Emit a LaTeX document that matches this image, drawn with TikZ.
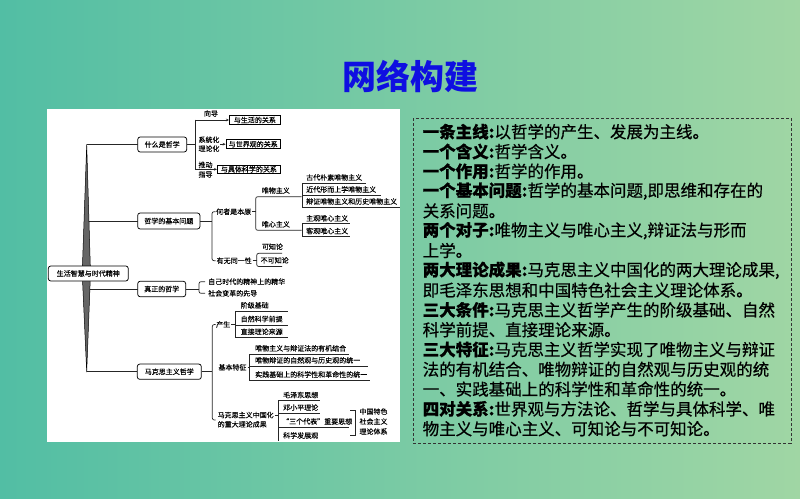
\documentclass[tikz,border=0pt]{standalone}
\usepackage{fontspec}
\newfontfamily\cjk{Noto Sans CJK SC}
\newfontfamily\cjkh[FakeBold=0.5]{Noto Sans CJK SC}
\newfontfamily\cjkm[FakeBold=0.25]{Noto Sans CJK SC}
\usetikzlibrary{arrows.meta}
\definecolor{bgL}{RGB}{82,190,164}
\definecolor{bgR}{RGB}{160,214,164}
\definecolor{ttl}{RGB}{15,15,225}
\begin{document}
\begin{tikzpicture}[x=1pt,y=-1pt,
  mm/.style={font=\cjkm\fontsize{7}{8}\selectfont, inner sep=0pt, text=black},
  mmw/.style={mm, anchor=west},
  rbox/.style={mm, draw, rounded corners=2.5pt, fill=white, line width=0.75pt},
  sbox/.style={mm, draw, line width=0.65pt, fill=white},
  ln/.style={line width=0.7pt, black!85},
  br/.style={ln, rounded corners=2pt},
  arr/.style={ln, -{Stealth[length=3pt,width=2.6pt]}},
  body/.style={font=\cjkh\fontsize{16.5}{19.8}\selectfont, inner sep=0pt, anchor=west, text=black},
]
\useasboundingbox (0,0) rectangle (800,498);
\shade[left color=bgL, right color=bgR] (0,0) rectangle (800,498);

% title
\node[font=\cjk\bfseries\fontsize{34}{36}\selectfont, text=ttl, inner sep=0pt] (title) at (410.5,76) {网络构建};

% white panel
\fill[white] (46.7,109.3) rectangle (400,441.5);

% trunk branches
\draw[ln] (86.7,144.5) -- (137.7,144.5);
\draw[ln] (88,221) -- (137.7,221);
\draw[ln] (88,289) -- (137.7,289);
\draw[ln] (87,371.7) -- (137.3,371.7);
\filldraw[fill=black!60, draw=black, line width=0.5pt] (86.7,144.5) -- (90.5,273) -- (86.7,372) -- (82.2,273) -- cycle;

% main boxes
\node[rbox, minimum width=80pt, minimum height=15pt] (root) at (88.3,273.5) {生活智慧与时代精神};
\node[rbox, minimum width=49pt, minimum height=15pt] (b1) at (162.2,144.5) {什么是哲学};
\node[rbox, minimum width=62.3pt, minimum height=16pt] (b2) at (168.8,221) {哲学的基本问题};
\node[rbox, minimum width=48pt, minimum height=15.5pt] (b3) at (161.7,289) {真正的哲学};
\node[rbox, minimum width=64pt, minimum height=15.3pt] (b4) at (169.3,371.7) {马克思主义哲学};

% --- 什么是哲学
\coordinate (k1) at (195.3,144.5);
\draw[ln] (b1.east) -- (k1);
\draw[ln] (195.3,119.7) -- (195.3,169.5);
\node[sbox, minimum width=51.2pt, minimum height=9.4pt] (s1) at (254.9,120) {与生活的关系};
\node[sbox, minimum width=54.5pt, minimum height=9pt] (s2) at (253.2,144.2) {与世界观的关系};
\node[sbox, minimum width=63.2pt, minimum height=8.8pt] (s3) at (248.9,169.3) {与具体科学的关系};
\coordinate (a1) at (195.3,120);
\coordinate (a2) at (219.8,144.2);
\coordinate (a3) at (195.3,169.3);
\draw[arr] (a1) -- (s1.west);
\draw[arr] (a2) -- (s2.west);
\draw[arr] (a3) -- (s3.west);
\node[mm] (x1) at (211,113.5) {向导};
\node[mmw] (x2) at (198.3,139.7) {系统化};
\node[mmw] (x3) at (198.3,148.6) {理论化};
\node[mmw] (x4) at (198.3,164.9) {推动};
\node[mmw] (x5) at (198.3,174.4) {指导};

% --- 哲学的基本问题
\draw[ln] (b2.east) -- (212,221);
\draw[br] (215.5,211.7) -- (212,211.7) -- (212,260.7) -- (215.5,260.7);
\node[mmw] (h1) at (216,211.7) {何者是本原};
\draw[ln] (h1.east) ++(0.5,0) -- (255.7,211.7);
\draw[br] (301.7,196.7) -- (255.7,196.7) -- (255.7,230.3) -- (301.7,230.3);
\node[mmw] (wm) at (261.7,190.5) {唯物主义};
\node[mmw] (wx) at (261.7,224.3) {唯心主义};
\draw[ln] (302,183) -- (302,207.2);
\draw[ln] (302,183) -- (366,183);
\draw[ln] (302,195) -- (381,195);
\draw[ln] (302,207.2) -- (399.5,207.2);
\node[mmw] (m1) at (306,177.5) {古代朴素唯物主义};
\node[mmw] (m2) at (306,189.5) {近代形而上学唯物主义};
\node[mmw] (m3) at (306,201.5) {辩证唯物主义和历史唯物主义};
\draw[ln] (302,223.5) -- (302,236.7);
\draw[ln] (302,223.5) -- (350,223.5);
\draw[ln] (302,236.7) -- (350,236.7);
\node[mmw] (n1) at (306,218.3) {主观唯心主义};
\node[mmw] (n2) at (306,231) {客观唯心主义};
\node[mmw] (h2) at (216.5,260.7) {有无同一性};
\draw[ln] (h2.east) ++(0.8,0) -- (256.7,260.7);
\draw[br] (282,253.3) -- (256.7,253.3) -- (256.7,266.5) -- (282,266.5);
\node[mmw] (k2a) at (261.7,246.7) {可知论};
\node[mmw] (k2b) at (260.5,260.3) {不可知论};

% --- 真正的哲学
\draw[ln] (b3.east) -- (199,289);
\draw[br] (205,281.7) -- (199,281.7) -- (199,293.3) -- (205,293.3);
\node[mmw] (z1) at (208,281.7) {自己时代的精神上的精华};
\node[mmw] (z2) at (208,293.3) {社会变革的先导};

% --- 马克思主义哲学
\draw[ln] (b4.east) -- (212.3,371.7);
\draw[br] (215.5,324.5) -- (212.3,324.5) -- (212.3,420) -- (215.5,420);
\node[mmw] (p0) at (216,324.5) {产生};
\draw[ln] (p0.east) ++(0.8,0) -- (235,324.5);
\draw[ln] (235,311) -- (235,337.7);
\draw[ln] (235,311) -- (287.5,311);
\draw[ln] (235,325) -- (287.5,325);
\draw[ln] (235,337.7) -- (287.5,337.7);
\node[mmw] (p1) at (240.5,305.3) {阶级基础};
\node[mmw] (p2) at (240.5,319) {自然科学前提};
\node[mmw] (p3) at (240.5,331.7) {直接理论来源};

\node[mmw] (q0) at (218.3,367.3) {基本特征};
\draw[ln] (q0.east) ++(0.8,0) -- (249.3,367.3);
\draw[ln] (249.3,354) -- (249.3,380);
\draw[ln] (249.3,354) -- (348.5,354);
\draw[ln] (249.3,366.3) -- (368,366.3);
\draw[ln] (249.3,380) -- (370,380);
\node[mmw] (q1) at (255,348.3) {唯物主义与辩证法的有机结合};
\node[mmw] (q2) at (255,360.3) {唯物辩证的自然观与历史观的统一};
\node[mmw] (q3) at (255,374.5) {实践基础上的科学性和革命性的统一};

\node[mmw] (r0a) at (217.5,415) {马克思主义中国化};
\node[mmw] (r0b) at (217.5,424.3) {的重大理论成果};
\draw[ln] (r0a.east) ++(0.8,0) -- (278.3,415);
\draw[ln] (278.3,400.5) -- (278.3,441.3);
\draw[ln] (278.3,400.5) -- (320,400.5);
\draw[ln] (278.3,413) -- (320,413);
\draw[ln] (278.3,427.5) -- (349,427.5);
\node[mmw] (r1) at (283,395) {毛泽东思想};
\node[mmw] (r2) at (283,407.5) {邓小平理论};
\node[mmw] (r3) at (282,421.5) {“三个代表”重要思想};
\node[mmw] (r4) at (283,435.5) {科学发展观};
\draw[ln] (350,410) -- (355,410) -- (355,435) -- (350,435);
\node[mmw] (c1) at (359.3,411.5) {中国特色};
\node[mmw] (c2) at (359.3,421.5) {社会主义};
\node[mmw] (c3) at (359.3,431.5) {理论体系};

% --- right text box
\draw[black!80, line width=0.8pt, dash pattern=on 3pt off 2pt] (413.3,118.3) rectangle (791,443.3);
\node[body] (t1) at (422.5,131.7) {\textbf{一条主线:}以哲学的产生、发展为主线。};
\node[body] (t2) at (422.5,151.5) {\textbf{一个含义:}哲学含义。};
\node[body] (t3) at (422.5,171.3) {\textbf{一个作用:}哲学的作用。};
\node[body] (t4) at (422.5,191.1) {\textbf{一个基本问题:}哲学的基本问题,即思维和存在的};
\node[body] (t5) at (422.5,210.9) {关系问题。};
\node[body] (t6) at (422.5,230.7) {\textbf{两个对子:}唯物主义与唯心主义,辩证法与形而};
\node[body] (t7) at (422.5,250.5) {上学。};
\node[body] (t8) at (422.5,270.3) {\textbf{两大理论成果:}马克思主义中国化的两大理论成果,};
\node[body] (t9) at (422.5,290.1) {即毛泽东思想和中国特色社会主义理论体系。};
\node[body] (t10) at (422.5,309.9) {\textbf{三大条件:}马克思主义哲学产生的阶级基础、自然};
\node[body] (t11) at (422.5,329.7) {科学前提、直接理论来源。};
\node[body] (t12) at (422.5,349.5) {\textbf{三大特征:}马克思主义哲学实现了唯物主义与辩证};
\node[body] (t13) at (422.5,369.3) {法的有机结合、唯物辩证的自然观与历史观的统};
\node[body] (t14) at (422.5,389.1) {一、实践基础上的科学性和革命性的统一。};
\node[body] (t15) at (422.5,408.9) {\textbf{四对关系:}世界观与方法论、哲学与具体科学、唯};
\node[body] (t16) at (422.5,428.7) {物主义与唯心主义、可知论与不可知论。};
\end{tikzpicture}
\end{document}
